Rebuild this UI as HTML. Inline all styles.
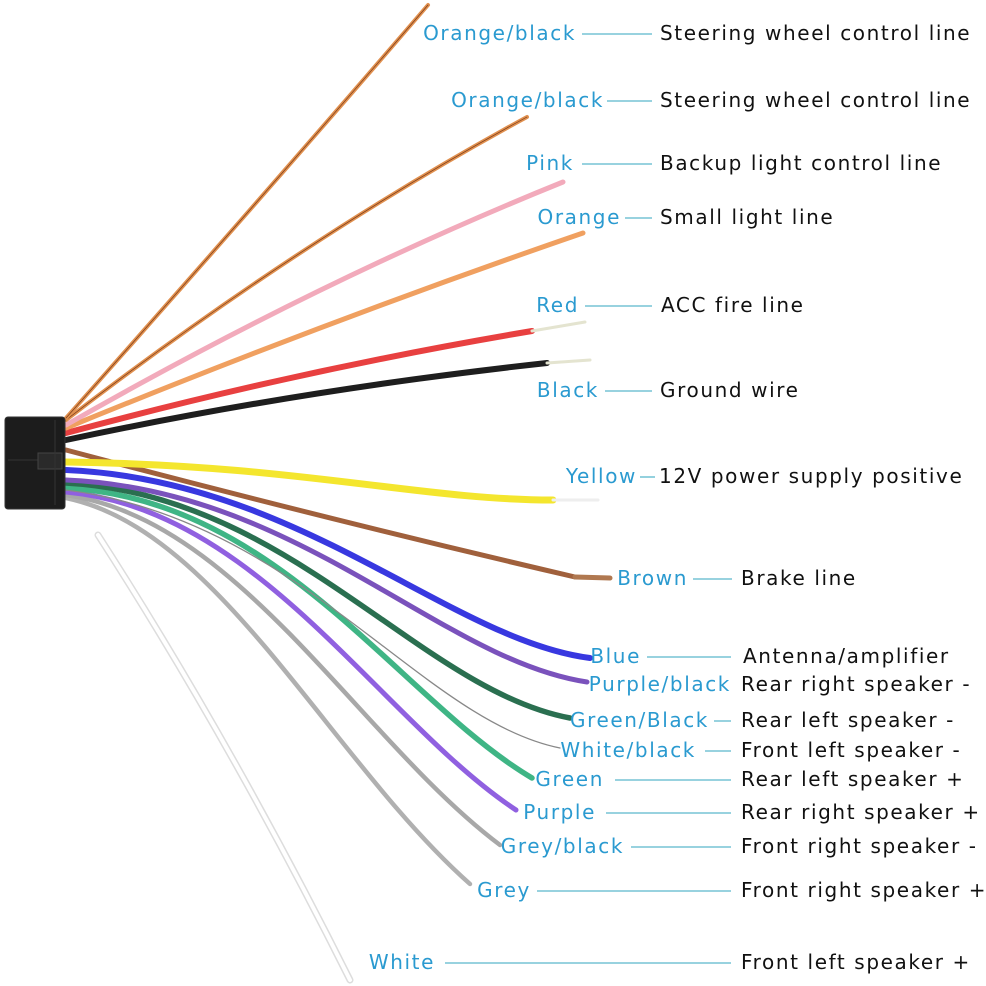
<!DOCTYPE html>
<html><head><meta charset="utf-8"><style>
html,body{margin:0;padding:0;background:#fff;}
svg{display:block;}
.l{font-family:"DejaVu Sans",sans-serif;font-size:20px;fill:#2a9ad0;text-anchor:end;letter-spacing:1.6px}
.d{font-family:"DejaVu Sans",sans-serif;font-size:20px;fill:#111;letter-spacing:1.6px}
.c{stroke:#5bb8cc;stroke-width:1.3}
</style></head><body>
<svg width="986" height="986" viewBox="0 0 986 986" xmlns="http://www.w3.org/2000/svg">
<g fill="none" stroke-linecap="round">
<path d="M98 535 Q230 740 350 980" stroke="#ddd" stroke-width="7"/>
<path d="M98 535 Q230 740 350 980" stroke="#fff" stroke-width="4"/>
<path d="M66 498 C220 530 330 760 470 884" stroke="#b0b0b0" stroke-width="4.5"/>
<path d="M66 495 C240 520 360 740 500 845" stroke="#a8a8a8" stroke-width="4.5"/>
<path d="M66 492 C260 510 380 720 516 810" stroke="#9060e0" stroke-width="5"/>
<path d="M66 488 C280 500 400 700 532 778" stroke="#3fb585" stroke-width="5.5"/>
<path d="M66 490 C300 520 420 720 560 748" stroke="#888" stroke-width="1.3"/>
<path d="M66 483 C290 495 420 690 570 718" stroke="#2a6f50" stroke-width="5.5"/>
<path d="M66 480 C300 490 440 660 587 682" stroke="#7a52bc" stroke-width="5"/>
<path d="M66 470 C300 480 450 640 590 658" stroke="#3838e0" stroke-width="6"/>
<path d="M66 450 Q330 520 575 577" stroke="#a0603c" stroke-width="5"/>
<path d="M575 577 L610 578" stroke="#b07850" stroke-width="5"/>
<path d="M66 462 C300 465 420 500 553 500" stroke="#f4e62e" stroke-width="7"/>
<path d="M553 500 L598 500" stroke="#eee" stroke-width="3"/>
<path d="M66 440 Q300 390 547 363" stroke="#1e1e1e" stroke-width="6"/>
<path d="M547 363 L590 360" stroke="#e4e4d0" stroke-width="3"/>
<path d="M66 433 Q300 370 532 331" stroke="#e84040" stroke-width="6"/>
<path d="M532 331 L585 322" stroke="#e4e4d0" stroke-width="3"/>
<path d="M66 428 Q330 320 583 233" stroke="#f0a060" stroke-width="5"/>
<path d="M66 425 Q320 280 563 182" stroke="#f2aabb" stroke-width="5"/>
<path d="M66 420 Q300 240 527 117" stroke="#e0904f" stroke-width="4"/>
<path d="M66 420 Q300 240 527 117" stroke="#7a3a18" stroke-width="0.7"/>
<path d="M66 418 Q260 200 428 5" stroke="#e0904f" stroke-width="4"/>
<path d="M66 418 Q260 200 428 5" stroke="#7a3a18" stroke-width="0.7"/>
</g>
<rect x="5" y="417" width="60" height="92" rx="3" fill="#1c1c1c"/>
<rect x="5" y="417" width="60" height="92" rx="3" fill="none" stroke="#333" stroke-width="1"/>
<line x1="8" y1="460" x2="62" y2="460" stroke="#333" stroke-width="1"/>
<rect x="38" y="453" width="24" height="16" fill="#2a2a2a" stroke="#444" stroke-width="1"/>
<line x1="55" y1="420" x2="55" y2="505" stroke="#333" stroke-width="1"/>

<g>
<text class="l" x="576" y="40">Orange/black</text><line class="c" x1="582" y1="34" x2="652" y2="34"/><text class="d" x="660" y="40">Steering wheel control line</text>
<text class="l" x="604" y="107">Orange/black</text><line class="c" x1="607" y1="101" x2="652" y2="101"/><text class="d" x="660" y="107">Steering wheel control line</text>
<text class="l" x="574" y="170">Pink</text><line class="c" x1="582" y1="164" x2="652" y2="164"/><text class="d" x="660" y="170">Backup light control line</text>
<text class="l" x="621" y="224">Orange</text><line class="c" x1="625" y1="218" x2="652" y2="218"/><text class="d" x="660" y="224">Small light line</text>
<text class="l" x="579" y="312">Red</text><line class="c" x1="585" y1="306" x2="652" y2="306"/><text class="d" x="661" y="312">ACC fire line</text>
<text class="l" x="599" y="397">Black</text><line class="c" x1="605" y1="391" x2="652" y2="391"/><text class="d" x="660" y="397">Ground wire</text>
<text class="l" x="637" y="483">Yellow</text><line class="c" x1="640" y1="477" x2="655" y2="477"/><text class="d" x="659" y="483">12V power supply positive</text>
<text class="l" x="688" y="585">Brown</text><line class="c" x1="693" y1="579" x2="732" y2="579"/><text class="d" x="741" y="585">Brake line</text>
<text class="l" x="641" y="663">Blue</text><line class="c" x1="647" y1="657" x2="731" y2="657"/><text class="d" x="743" y="663">Antenna/amplifier</text>
<text class="l" x="731" y="691">Purple/black</text><text class="d" x="741" y="691">Rear right speaker -</text>
<text class="l" x="709" y="727">Green/Black</text><line class="c" x1="714" y1="721" x2="731" y2="721"/><text class="d" x="741" y="727">Rear left speaker -</text>
<text class="l" x="696" y="757">White/black</text><line class="c" x1="705" y1="751" x2="731" y2="751"/><text class="d" x="741" y="757">Front left speaker -</text>
<text class="l" x="604" y="786">Green</text><line class="c" x1="615" y1="780" x2="731" y2="780"/><text class="d" x="741" y="786">Rear left speaker +</text>
<text class="l" x="596" y="819">Purple</text><line class="c" x1="606" y1="813" x2="731" y2="813"/><text class="d" x="741" y="819">Rear right speaker +</text>
<text class="l" x="624" y="853">Grey/black</text><line class="c" x1="631" y1="847" x2="731" y2="847"/><text class="d" x="741" y="853">Front right speaker -</text>
<text class="l" x="531" y="897">Grey</text><line class="c" x1="537" y1="891" x2="731" y2="891"/><text class="d" x="741" y="897">Front right speaker +</text>
<text class="l" x="435" y="969">White</text><line class="c" x1="445" y1="963" x2="731" y2="963"/><text class="d" x="741" y="969">Front left speaker +</text>
</g>
</svg>
</body></html>
